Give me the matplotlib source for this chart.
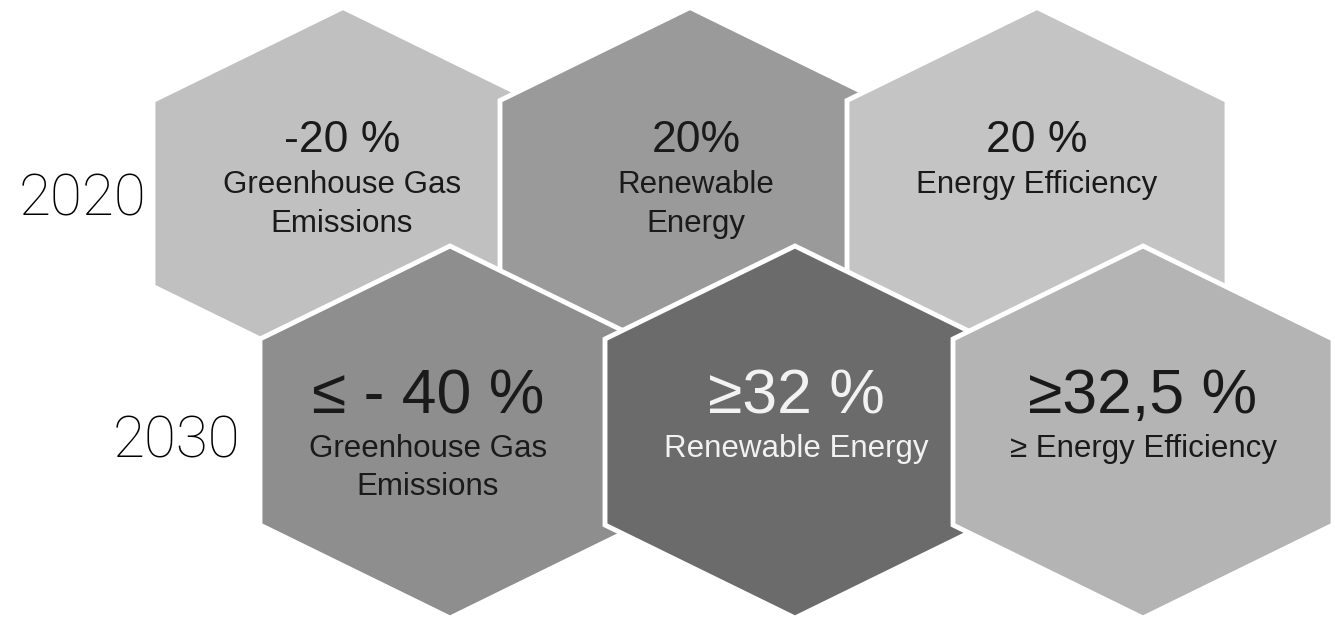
import matplotlib.pyplot as plt
from matplotlib.patches import Polygon

# targets, 2020 row first, then 2030 row
years = ['2020', '2030']
headlines = ['-20 %', '20%', '20 %', '≤ - 40 %', '≥32 %', '≥32,5 %']
subtitles = [
    ['Greenhouse Gas', 'Emissions'],
    ['Renewable', 'Energy'],
    ['Energy Efficiency'],
    ['Greenhouse Gas', 'Emissions'],
    ['Renewable Energy'],
    ['≥ Energy Efficiency'],
]
fills = ['#c0c0c0', '#9a9a9a', '#c4c4c4', '#8e8e8e', '#6b6b6b', '#b4b4b4']
text_colors = ['#1a1a1a'] * 4 + ['#f2f2f2', '#1a1a1a']

# layout in pixels (y grows downwards)
W, H = 1335, 619
hex_x = [343, 690, 1037, 450, 795, 1143]
row_y = [193.5, 432]
text_x = [342, 696, 1037, 428, 796, 1143]
head_base = [152, 413]
sub_base = [193, 457]
line_gap = [39, 38]
head_size = [32, 45]
sub_size = 22.5
fonts = ['Liberation Sans', 'DejaVu Sans']


def hex_points(cx, cy, hw=190, hh=186):
    return [(cx, cy - hh), (cx + hw, cy - hh / 2), (cx + hw, cy + hh / 2),
            (cx, cy + hh), (cx - hw, cy + hh / 2), (cx - hw, cy - hh / 2)]


fig = plt.figure(figsize=(W / 100, H / 100), dpi=100)
ax = fig.add_axes([0, 0, 1, 1])
ax.set_xlim(0, W)
ax.set_ylim(H, 0)
ax.axis('off')

for i in range(6):
    row = i // 3
    ax.add_patch(Polygon(hex_points(hex_x[i], row_y[row]), closed=True,
                         facecolor=fills[i], edgecolor='white', linewidth=3.5,
                         joinstyle='miter', zorder=i + 1))
    ax.text(text_x[i], head_base[row], headlines[i], ha='center', va='baseline',
            fontsize=head_size[row], color=text_colors[i], family=fonts, zorder=10)
    for j, line in enumerate(subtitles[i]):
        ax.text(text_x[i], sub_base[row] + j * line_gap[row], line, ha='center',
                va='baseline', fontsize=sub_size, color=text_colors[i],
                family=fonts, zorder=10)

# year labels on the left of each row
year_font = ['Roboto', 'DejaVu Sans']
ax.text(83, 215, years[0], ha='center', va='baseline', fontsize=42,
        family=year_font, fontweight='light', color='black')
ax.text(176, 458, years[1], ha='center', va='baseline', fontsize=42,
        family=year_font, fontweight='light', color='black')

fig.savefig('out.png', dpi=100, facecolor='white')
